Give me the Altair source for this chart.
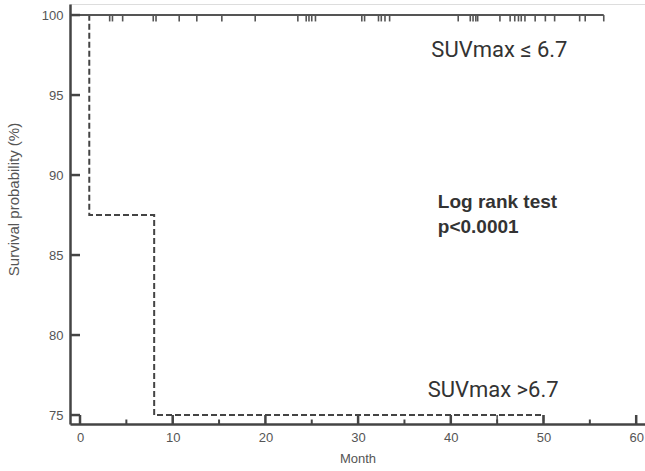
import altair as alt
import pandas as pd

# ---- data ----
# SUVmax <= 6.7 : no events, survival stays at 100 %
low_time = [0, 56.5]
low_surv = [100, 100]
low_censor = [3.2, 3.5, 4.6, 7.9, 8.2, 10.7, 12.6, 15.3, 18.9, 23.5, 24.4, 24.7,
              25.0, 25.4, 30.4, 30.7, 32.2, 32.5, 32.9, 33.4, 40.8, 42.1, 42.4,
              42.7, 42.9, 45.3, 46.4, 46.9, 47.3, 47.6, 48.0, 49.1, 50.2, 51.2,
              53.9, 54.5, 56.5]

# SUVmax > 6.7 : events at 1 and 8 months
high_time = [0, 1, 8, 50]
high_surv = [100, 87.5, 75, 75]
high_censor = [10, 40, 45, 50]
high_censor_surv = [75, 75, 75, 75]

y_ticks = [75, 80, 85, 90, 95, 100]
x_major = [0, 10, 20, 30, 40, 50, 60]
x_minor = [5, 15, 25, 35, 45, 55]

labels_txt = ["SUVmax \u2264 6.7", "SUVmax >6.7"]
labels_x = [37.9, 37.5]
labels_y = [97.4, 76.15]

test_txt = ["Log rank test", "p<0.0001"]
test_x = [38.6, 38.6]
test_y = [87.94, 86.38]

# ---- tables ----
low_df = pd.DataFrame({"t": low_time, "s": low_surv})
high_df = pd.DataFrame({"t": high_time, "s": high_surv})
cens_df = pd.DataFrame({
    "t": low_censor + high_censor,
    "s": [100] * len(low_censor) + high_censor_surv,
})
yt_df = pd.DataFrame({"v": y_ticks})
xmaj_df = pd.DataFrame({"v": x_major})
xmin_df = pd.DataFrame({"v": x_minor})
lab_df = pd.DataFrame({"x": labels_x, "y": labels_y, "txt": labels_txt})
test_df = pd.DataFrame({"x": test_x, "y": test_y, "txt": test_txt})

XDOM = [-1.08, 60.95]
YDOM = [74.44, 100.69]
xs = alt.Scale(domain=XDOM, nice=False, zero=False)
ys = alt.Scale(domain=YDOM, nice=False, zero=False)

AX_COLOR = "#444444"
LAB_COLOR = "#555555"

x_axis = alt.Axis(values=x_major, ticks=False, tickSize=0, grid=False,
                  domainColor=AX_COLOR, domainWidth=2.5, labelColor=LAB_COLOR,
                  labelFont="Liberation Sans", labelFontSize=13, labelPadding=7,
                  title="Month", titleFont="Liberation Sans", titleFontSize=13,
                  titleFontWeight="normal", titleColor=LAB_COLOR, titlePadding=8)
y_axis = alt.Axis(values=y_ticks, ticks=False, tickSize=0, grid=False,
                  domainColor=AX_COLOR, domainWidth=2.5, labelColor=LAB_COLOR,
                  labelFont="Liberation Sans", labelFontSize=13, labelPadding=7,
                  title="Survival probability (%)", titleFont="Liberation Sans",
                  titleFontSize=15, titleFontWeight="normal", titleColor=LAB_COLOR,
                  titleX=-49, titleY=195)

low_line = alt.Chart(low_df).mark_line(color="#555555", strokeWidth=2).encode(
    x=alt.X("t:Q", scale=xs, axis=x_axis),
    y=alt.Y("s:Q", scale=ys, axis=y_axis),
)

high_line = alt.Chart(high_df).mark_line(
    color=AX_COLOR, strokeWidth=2, strokeDash=[6, 3], interpolate="step-after"
).encode(
    x=alt.X("t:Q", scale=xs),
    y=alt.Y("s:Q", scale=ys),
)

cens = alt.Chart(cens_df).transform_calculate(s2="datum.s - 0.4").mark_rule(
    color="#555555", strokeWidth=1.6
).encode(
    x=alt.X("t:Q", scale=xs),
    y=alt.Y("s:Q", scale=ys),
    y2="s2:Q",
)

ytick = alt.Chart(yt_df).mark_rule(color=AX_COLOR, strokeWidth=2.5).encode(
    y=alt.Y("v:Q", scale=ys),
    x=alt.value(0),
    x2=alt.value(10),
)

xtick_major = alt.Chart(xmaj_df).mark_rule(color=AX_COLOR, strokeWidth=2.5).encode(
    x=alt.X("v:Q", scale=xs),
    y=alt.value(420),
    y2=alt.value(411),
)

xtick_minor = alt.Chart(xmin_df).mark_rule(color=AX_COLOR, strokeWidth=2).encode(
    x=alt.X("v:Q", scale=xs),
    y=alt.value(420),
    y2=alt.value(415.5),
)

labels = alt.Chart(lab_df).mark_text(
    align="left", baseline="alphabetic", font="Roboto",
    fontSize=22, color="#333333"
).encode(
    x=alt.X("x:Q", scale=xs),
    y=alt.Y("y:Q", scale=ys),
    text="txt:N",
)

test = alt.Chart(test_df).mark_text(
    align="left", baseline="alphabetic", font="Liberation Sans",
    fontSize=19, fontWeight="bold", color="#333333"
).encode(
    x=alt.X("x:Q", scale=xs),
    y=alt.Y("y:Q", scale=ys),
    text="txt:N",
)

chart = alt.layer(
    high_line, low_line, cens, ytick, xtick_major, xtick_minor, labels, test
).properties(
    width=575,
    height=420,
    autosize=alt.AutoSizeParams(type="none"),
    padding={"left": 70, "top": 4, "right": 0, "bottom": 47},
    background="white",
).configure_view(stroke="#dddddd", strokeWidth=1)

chart.save("out.html", embed_options={"renderer": "svg", "actions": False})
